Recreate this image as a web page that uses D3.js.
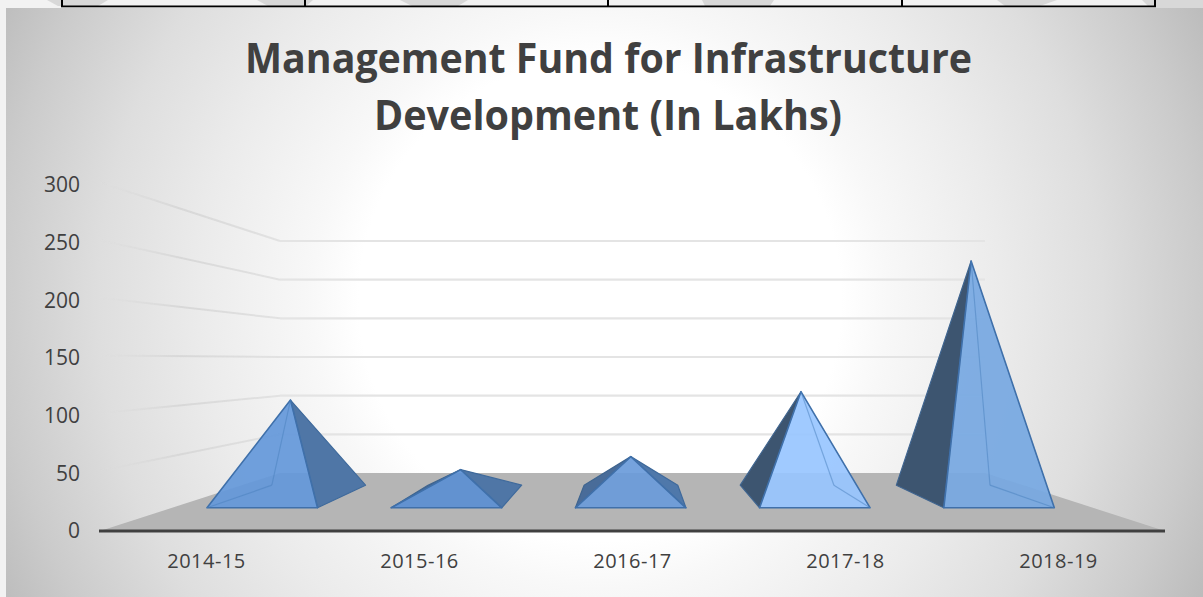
<!DOCTYPE html>
<html><head><meta charset="utf-8">
<style>html,body{margin:0;padding:0;background:#f2f2f2}svg{display:block}text{font-family:"Open Sans",sans-serif;fill:#404040}</style>
<script src="https://cdn.jsdelivr.net/npm/d3@7"></script></head><body>
<script>
const categories = ["2014-15","2015-16","2016-17","2017-18","2018-19"];
const values = [104, 29, 43, 113, 254];
const yTicks = [0,50,100,150,200,250,300];
const titleLines = ["Management Fund for Infrastructure","Development (In Lakhs)"];
const frontColours = ["#6498da","#5b8fd2","#6a9bda","#98c5ff","#76a8e2"];
const leftColours  = ["#4f76a6","#44658f","#4a6c99","#3e556f","#3d546f"];
const rightColours = ["#4f76a6","#4f76a6","#5078aa","#4f76a6","#4f76a6"];

const W=1203,H=597;
const svg=d3.select("body").append("svg").attr("width",W).attr("height",H);
const defs=svg.append("defs");
const bg=defs.append("radialGradient").attr("id","bg").attr("gradientUnits","userSpaceOnUse")
  .attr("cx",600).attr("cy",300).attr("r",670);
[[0,"#fff"],[.36,"#fff"],[.43,"#f8f8f8"],[.6,"#ebebeb"],[.75,"#dedede"],[.9,"#cbcbcb"],[1,"#bcbcbc"]]
  .forEach(([o,c])=>bg.append("stop").attr("offset",o).attr("stop-color",c));
const fade=defs.append("linearGradient").attr("id","fade").attr("gradientUnits","userSpaceOnUse")
  .attr("x1",100).attr("x2",278).attr("y1",0).attr("y2",0);
fade.append("stop").attr("offset",0).attr("stop-color","#d8d8d8").attr("stop-opacity",0);
fade.append("stop").attr("offset",.45).attr("stop-color","#d6d6d6").attr("stop-opacity",.9);
fade.append("stop").attr("offset",1).attr("stop-color","#e2e2e2");
defs.append("filter").attr("id","soft").append("feGaussianBlur").attr("stdDeviation",.65);

// page behind the chart: table stub and watermark
const strip=svg.append("g");
strip.append("rect").attr("x",0).attr("y",0).attr("width",W).attr("height",8).attr("fill","#f2f2f2");
[[47,58,108,98],[257,268,305,305],[305,305,313,306],[400,412,468,458],[702,705,774,770],[997,1005,1057,1040],[1142,1148,1156,1156]]
  .forEach(([a,b,c,d])=>strip.append("path").attr("d",`M${a},0L${c},0L${d},6L${b},6Z`).attr("fill","#d8d8d8"));
strip.append("rect").attr("x",1156).attr("y",0).attr("width",47).attr("height",8).attr("fill","#d8d8d8");
strip.append("rect").attr("x",61).attr("y",5.5).attr("width",1095).attr("height",1.8).attr("fill","#000");
[62,305,608,902,1155].forEach(x=>strip.append("rect").attr("x",x-1).attr("y",0).attr("width",2).attr("height",7).attr("fill","#000"));

svg.append("rect").attr("x",6).attr("y",8).attr("width",W-6).attr("height",H-8).attr("fill","url(#bg)");

// title
[[73,245,727],[130,374,468]].forEach(([y,x,len],i)=>
  svg.append("text").attr("x",x).attr("y",y).attr("font-size",41).attr("font-weight",700)
    .attr("textLength",len).attr("lengthAdjust","spacingAndGlyphs").text(titleLines[i]));

// perspective scales
const yFront=d3.scaleLinear().domain([0,300]).range([531,185]);
const yBack=d3.scaleLinear().domain([0,300]).range([473,241]);
const xFront=d3.scaleLinear().domain([0,1]).range([100,1165]);
const xBack=d3.scaleLinear().domain([0,1]).range([280,985]);
const catBand=d3.scaleBand().domain(categories).range([100,1165]);
const uBand=d3.scaleBand().domain(categories).range([-0.002,0.998]).paddingInner(.4).paddingOuter(.2);
const project=(u,d,v)=>[d3.interpolateNumber(xFront(u),xBack(u))(d),d3.interpolateNumber(yFront(v),yBack(v))(d)];
const line=d3.line();
const plot=svg.append("g").attr("filter","url(#soft)");

// floor
plot.append("path").attr("fill","#b5b5b5")
  .attr("d",line([project(0,0,0),project(1,0,0),project(1,1,0),project(0,1,0)])+"Z");

// gridlines: left wall then back wall
yTicks.filter(t=>t>0).forEach(t=>{
  plot.insert("path",":first-child").attr("fill","none").attr("stroke","url(#fade)").attr("stroke-width",2)
    .attr("d",line([[xFront(0),yFront(t)-2.5],[xBack(0),yBack(t)+.01]]));
  plot.insert("path",":first-child").attr("fill","none").attr("stroke","#e4e4e4").attr("stroke-width",2.2)
    .attr("d",line([[xBack(0),yBack(t)],[xBack(1),yBack(t)]]));
});

// pyramids
const d0=.40,d1=.79,dm=(d0+d1)/2;
const xOnEdge=(P,Q,y)=>P[0]+(Q[0]-P[0])*(y-P[1])/(Q[1]-P[1]);
categories.forEach((c,i)=>{
  const u0=uBand(c),u1=u0+uBand.bandwidth(),um=(u0+u1)/2;
  const FL=project(u0,d0,0),FR=project(u1,d0,0),BL=project(u0,d1,0),BR=project(u1,d1,0),A=project(um,dm,values[i]);
  const g=plot.append("g").attr("stroke-linejoin","round");
  const leftVisible=BL[0]<xOnEdge(FL,A,BL[1]), rightVisible=BR[0]>xOnEdge(FR,A,BR[1]);
  const hidden=[];
  if(!leftVisible) hidden.push([A,BL],[BL,FL]);
  if(!rightVisible) hidden.push([A,BR],[BR,FR]);
  if(leftVisible) g.append("path").attr("d",line([FL,BL,A])+"Z").attr("fill",leftColours[i]).attr("stroke","#3f6590").attr("stroke-width",1.2);
  if(rightVisible) g.append("path").attr("d",line([FR,BR,A])+"Z").attr("fill",rightColours[i]).attr("stroke","#3f6a9c").attr("stroke-width",1.2);
  g.append("path").attr("d",line([FL,FR,A])+"Z").attr("fill",frontColours[i]).attr("fill-opacity",.92)
    .attr("stroke","#3f70aa").attr("stroke-width",1.6);
  hidden.forEach(e=>g.append("path").attr("d",line(e)).attr("fill","none").attr("stroke","#4a7fbe").attr("stroke-opacity",.5).attr("stroke-width",1.2));
});

// floor front edge
plot.append("path").attr("d",line([[99,yFront(0)],[1165,yFront(0)]])).attr("stroke","#404040").attr("stroke-width",3).attr("fill","none");

// axes
const yAxis=svg.append("g").attr("transform","translate(88,0)")
  .call(d3.axisLeft(yFront).tickValues(yTicks).tickSize(0).tickPadding(8));
yAxis.select(".domain").remove();
yAxis.selectAll("text").attr("font-size",21).attr("font-family",'"Open Sans",sans-serif').attr("fill","#404040");
const xAxis=svg.append("g").attr("transform","translate(0,552)")
  .call(d3.axisBottom(catBand).tickSize(0).tickPadding(2));
xAxis.select(".domain").remove();
xAxis.selectAll("text").attr("font-size",20).attr("font-family",'"Open Sans",sans-serif').attr("fill","#404040").attr("letter-spacing",.5);
</script></body></html>
